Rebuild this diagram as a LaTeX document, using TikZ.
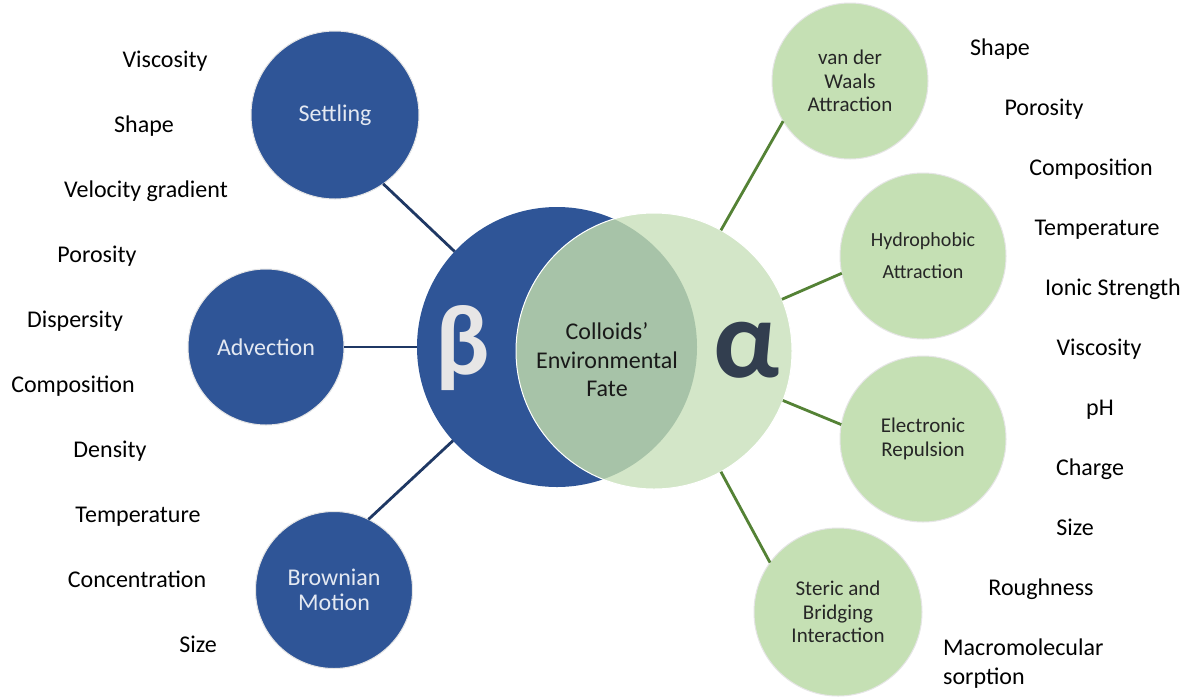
\documentclass[tikz,border=0pt]{standalone}
\usepackage{fontspec}
\setmainfont{Carlito}
\definecolor{bblue}{HTML}{2F5597}
\definecolor{bnavy}{HTML}{1F3864}
\definecolor{gsat}{HTML}{C5E0B4}
\definecolor{gbig}{HTML}{D3E6C8}
\definecolor{glens}{HTML}{A7C3A8}
\definecolor{gline}{HTML}{548235}
\definecolor{alphac}{HTML}{323E4F}
\definecolor{betac}{HTML}{E7E6E6}
\definecolor{btext}{HTML}{E4E9F2}
\begin{document}
\begin{tikzpicture}[x=1pt,y=-1pt,
  bsat/.style={circle, fill=bblue, draw=white!90!black, line width=1pt, inner sep=0pt, outer sep=0pt,
    text=btext, align=center, font=\fontsize{24}{25}\selectfont},
  gsatc/.style={circle, fill=gsat, draw=white!90!black, line width=1pt, inner sep=0pt, outer sep=0pt,
    text=black!85, align=center, font=\fontsize{21}{23.5}\selectfont},
  lab/.style={anchor=base, inner sep=0pt, text=black, font=\fontsize{24}{28}\selectfont},
  bline/.style={draw=bnavy, line width=2.8pt},
  gln/.style={draw=gline, line width=2.8pt}]
\useasboundingbox (0,0) rectangle (1194,697);
\fill[white] (0,0) rectangle (1194,697);

% central pair
\node[circle, fill=bblue, minimum size=280, inner sep=0pt, outer sep=0pt] (beta) at (557,347) {};
\node[circle, fill=gbig, minimum size=276, inner sep=0pt, outer sep=0pt] (alpha) at (654,351) {};
\begin{scope}
  \clip (557,347) circle[radius=140];
  \fill[glens] (654,351) circle[radius=138];
\end{scope}
\draw[white, line width=1pt] (654,351) circle[radius=138];

\node[text=betac, inner sep=0pt, font=\fontsize{100}{100}\selectfont\bfseries] (betasym) at (463,348) {β};
\node[text=alphac, inner sep=0pt, font=\fontsize{112}{112}\selectfont\bfseries] (alphasym) at (747,350) {α};
\node[align=center, inner sep=0pt, text=black!90, font=\fontsize{24}{28.5}\selectfont] (fate) at (607,360)
  {Colloids’\\Environmental\\Fate};

% blue satellites
\node[bsat, minimum size=168] (settling) at (335,115) {Settling};
\node[bsat, minimum size=156] (advection) at (266,347) {Advection};
\node[bsat, minimum size=157] (brownian) at (334,590) {Brownian\\Motion};

% green satellites
\node[gsatc, minimum size=156] (vdw) at (850,81) {van der\\Waals\\Attraction};
\node[gsatc, minimum size=166, font=\fontsize{20}{32}\selectfont] (hydro) at (923,256) {Hydrophobic\\Attraction};
\node[gsatc, minimum size=166] (electro) at (923,439) {Electronic\\Repulsion};
\node[gsatc, minimum size=168] (steric) at (838,612) {Steric and\\Bridging\\Interaction};

% connectors
\draw[bline] (settling.-55) -- (beta.137);
\draw[bline] (advection.0) -- (beta.180);
\draw[bline] (brownian.64) -- (beta.222);
\draw[gln] (vdw.211) -- (alpha.61);
\draw[gln] (hydro.192) -- (alpha.22);
\draw[gln] (electro.170) -- (alpha.-21);
\draw[gln] (steric.144) -- (alpha.-61);

% left labels
\node[lab] (l1) at (165,67) {Viscosity};
\node[lab] (l2) at (144,132) {Shape};
\node[lab] (l3) at (146,197) {Velocity gradient};
\node[lab] (l4) at (97,262) {Porosity};
\node[lab] (l5) at (75,327) {Dispersity};
\node[lab] (l6) at (73,392) {Composition};
\node[lab] (l7) at (110,457) {Density};
\node[lab] (l8) at (138,522) {Temperature};
\node[lab] (l9) at (137,587) {Concentration};
\node[lab] (l10) at (198,652) {Size};

% right labels
\node[lab] (r1) at (1000,55) {Shape};
\node[lab] (r2) at (1044,115) {Porosity};
\node[lab] (r3) at (1091,175) {Composition};
\node[lab] (r4) at (1097,235) {Temperature};
\node[lab] (r5) at (1113,295) {Ionic Strength};
\node[lab] (r6) at (1099,355) {Viscosity};
\node[lab] (r7) at (1100,415) {pH};
\node[lab] (r8) at (1090,475) {Charge};
\node[lab] (r9) at (1075,535) {Size};
\node[lab] (r10) at (1041,595) {Roughness};
\node[lab, anchor=base west] (r11) at (943,655) {Macromolecular};
\node[lab, anchor=base west] (r12) at (943,684) {sorption};
\end{tikzpicture}
\end{document}
